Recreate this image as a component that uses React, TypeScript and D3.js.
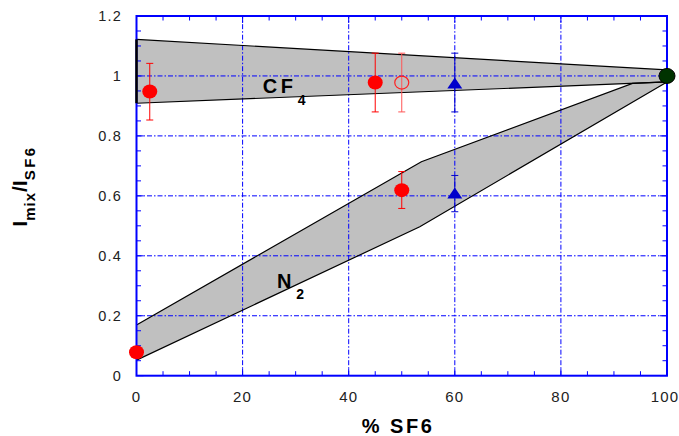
import React from "react";
import * as d3 from "d3";

// ---- data ----
const xTicks = [0, 20, 40, 60, 80, 100];
const yTicks = [0, 0.2, 0.4, 0.6, 0.8, 1, 1.2];
const yTickLabels = ["0", "0.2", "0.4", "0.6", "0.8", "1", "1.2"];

// CF4 band (upper edge left->right, lower edge right->left)
const cf4Upper: [number, number][] = [[0, 1.122], [100, 1.02]];
const cf4Lower: [number, number][] = [[100, 0.98], [0, 0.909]];
// N2 band
const n2Upper: [number, number][] = [[0, 0.169], [53.7, 0.714], [93.5, 0.975], [100, 0.98]];
const n2Lower: [number, number][] = [[100, 0.98], [53.4, 0.497], [0, 0.052]];

// points: x, y, errLow, errHigh
const redFilled = [
  { x: 2.5, y: 0.948, lo: 0.853, hi: 1.042 },
  { x: 45, y: 0.978, lo: 0.88, hi: 1.076 },
  { x: 0, y: 0.078, lo: null, hi: null },
  { x: 50, y: 0.619, lo: 0.558, hi: 0.681 },
];
const redOpen = [{ x: 50, y: 0.978, lo: 0.88, hi: 1.076 }];
const blueTriangles = [
  { x: 60, y: 0.973, lo: 0.88, hi: 1.076 },
  { x: 60, y: 0.606, lo: 0.547, hi: 0.668 },
];
const greenDot = [{ x: 100, y: 1.0 }];

const W = 679;
const H = 436;
const FONT = "Arial, 'Liberation Sans', sans-serif";

export default function App() {
  const x = d3.scaleLinear().domain([0, 100]).range([136.5, 667]);
  const y = d3.scaleLinear().domain([0, 1.2]).range([375.7, 16]);
  const line = d3.line<[number, number]>().x((d) => x(d[0])).y((d) => y(d[1]));
  const poly = (pts: [number, number][]) => line(pts) + "Z";

  const xMinor = d3.range(0, 101, 5);
  const yMinor = d3.range(0, 1.2001, 0.05);
  const blue = "#0000ff";
  const grid = "5,2,1.5,2";

  const errBar = (d: any, color: string, key: string) =>
    d.lo == null ? null : (
      <g key={key} stroke={color} strokeWidth={1}>
        <line x1={x(d.x)} x2={x(d.x)} y1={y(d.lo)} y2={y(d.hi)} />
        <line x1={x(d.x) - 3.5} x2={x(d.x) + 3.5} y1={y(d.lo)} y2={y(d.lo)} />
        <line x1={x(d.x) - 3.5} x2={x(d.x) + 3.5} y1={y(d.hi)} y2={y(d.hi)} />
      </g>
    );

  const tri = (cx: number, cy: number) =>
    `M${cx},${cy - 6.5}L${cx + 7.5},${cy + 4.5}L${cx - 7.5},${cy + 4.5}Z`;

  return (
    <svg width={W} height={H} style={{ position: "absolute", left: 0, top: 0, background: "#fff" }} fontFamily={FONT}>
      {/* bands */}
      <path d={poly([...cf4Upper, ...cf4Lower])} fill="#c0c0c0" stroke="none" />
      <path d={poly([...n2Upper, ...n2Lower])} fill="#c0c0c0" stroke="none" />

      {/* grid */}
      {xTicks.slice(1, -1).map((t) => (
        <line key={"gx" + t} x1={x(t)} x2={x(t)} y1={y(0)} y2={y(1.2)} stroke={blue} strokeWidth={1} strokeDasharray={grid} />
      ))}
      {yTicks.slice(1, -1).map((t) => (
        <line key={"gy" + t} x1={x(0)} x2={x(100)} y1={y(t)} y2={y(t)} stroke={blue} strokeWidth={1} strokeDasharray={grid} />
      ))}

      {/* band outlines */}
      <path d={line(cf4Upper)!} fill="none" stroke="#000" strokeWidth={1.2} />
      <path d={line(cf4Lower)!} fill="none" stroke="#000" strokeWidth={1.2} />
      <path d={line(n2Upper)!} fill="none" stroke="#000" strokeWidth={1.2} />
      <path d={line(n2Lower)!} fill="none" stroke="#000" strokeWidth={1.2} />

      {/* ticks */}
      {xMinor.map((t) => {
        const len = t % 20 === 0 ? 7 : 4.5;
        return (
          <g key={"tx" + t} stroke={blue} strokeWidth={1}>
            <line x1={x(t)} x2={x(t)} y1={y(0)} y2={y(0) - len} />
            <line x1={x(t)} x2={x(t)} y1={y(1.2)} y2={y(1.2) + len} />
          </g>
        );
      })}
      {yMinor.map((t, i) => {
        const len = i % 4 === 0 ? 7 : 4.5;
        return (
          <g key={"ty" + i} stroke={blue} strokeWidth={1}>
            <line x1={x(0)} x2={x(0) + len} y1={y(t)} y2={y(t)} />
            <line x1={x(100)} x2={x(100) - len} y1={y(t)} y2={y(t)} />
          </g>
        );
      })}

      {/* frame */}
      <rect x={x(0)} y={y(1.2)} width={x(100) - x(0)} height={y(0) - y(1.2)} fill="none" stroke={blue} strokeWidth={2} />

      {/* CF4 left edge, thick black */}
      <line x1={x(cf4Upper[0][0])} x2={x(cf4Lower[1][0])} y1={y(cf4Upper[0][1])} y2={y(cf4Lower[1][1])} stroke="#000" strokeWidth={2.5} />

      {/* tick labels */}
      {xTicks.map((t) => (
        <text key={"lx" + t} x={t === 100 ? x(t) - 2 : x(t)} y={y(0) + 26} textAnchor="middle" fontSize={15} letterSpacing={1.2} fill="#222">
          {t}
        </text>
      ))}
      {yTicks.map((t, i) => (
        <text key={"ly" + t} x={122} y={y(t) + 5} textAnchor="end" fontSize={14.5} letterSpacing={1.2} fill="#222">
          {yTickLabels[i]}
        </text>
      ))}

      {/* error bars */}
      {redFilled.map((d, i) => errBar(d, "#ff0000", "ef" + i))}
      {redOpen.map((d, i) => errBar(d, "#ff5555", "eo" + i))}
      {blueTriangles.map((d, i) => errBar(d, "#0000cc", "eb" + i))}

      {/* markers */}
      {redFilled.map((d, i) => (
        <ellipse key={"rf" + i} cx={x(d.x)} cy={y(d.y)} rx={7.5} ry={7} fill="#ff0000" />
      ))}
      {redOpen.map((d, i) => (
        <ellipse key={"ro" + i} cx={x(d.x)} cy={y(d.y)} rx={7} ry={6.5} fill="none" stroke="#ff2020" strokeWidth={1.2} />
      ))}
      {blueTriangles.map((d, i) => (
        <path key={"bt" + i} d={tri(x(d.x), y(d.y))} fill="#0000cc" />
      ))}
      {greenDot.map((d, i) => (
        <ellipse key={"gd" + i} cx={x(d.x)} cy={y(d.y)} rx={8} ry={7.5} fill="#003300" stroke="#000" strokeWidth={1} />
      ))}

      {/* band labels */}
      <text x={x(23.8)} y={y(0.944)} fontSize={20} fontWeight="bold" letterSpacing={3.5} fill="#000">CF</text>
      <text x={x(30.4)} y={y(0.902)} fontSize={14} fontWeight="bold" fill="#000">4</text>
      <text x={x(26.5)} y={y(0.293)} fontSize={20} fontWeight="bold" fill="#000">N</text>
      <text x={x(30.1)} y={y(0.256)} fontSize={14} fontWeight="bold" fill="#000">2</text>

      {/* axis titles */}
      <text x={398} y={433} textAnchor="middle" fontSize={20} fontWeight="bold" letterSpacing={2.5} fill="#000">
        % SF6
      </text>
      <text transform="translate(27,186) rotate(-90)" textAnchor="middle" fontSize={21} fontWeight="bold" fill="#000">
        <tspan>I</tspan>
        <tspan dy={8} fontSize={15} letterSpacing={1}>mix</tspan>
        <tspan dy={-8}>/I</tspan>
        <tspan dy={8} fontSize={15} letterSpacing={2.5}>SF6</tspan>
      </text>
    </svg>
  );
}
